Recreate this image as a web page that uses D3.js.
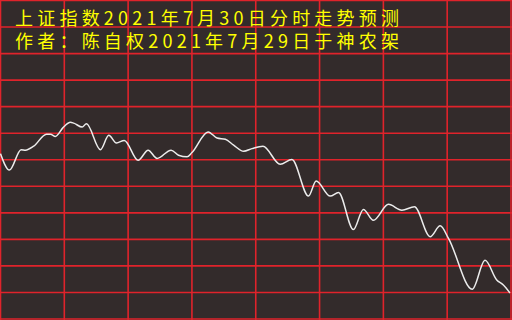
<!DOCTYPE html>
<html><head><meta charset="utf-8">
<script src="https://cdn.jsdelivr.net/npm/d3@7"></script>
<style>html,body{margin:0;padding:0;background:#332b2b;overflow:hidden}</style>
</head><body>
<svg id="c" width="512" height="320"></svg>
<script>
// Title lines
const titles = ["上证指数2021年7月30日分时走势预测", "作者：陈自权2021年7月29日于神农架"];
// Trading minute (0..240) of each traced point
const minutes = [0,4.2,9.7,11.7,15.6,21.6,23.5,25.8,29.4,32.9,34.4,38.4,40.4,47,50.9,54.5,58.2,64.7,69.4,73.6,80.2,83.7,87.7,90,97.6,101.8,105.7,109.6,114.3,118.2,123.4,131.5,137,144.8,148.4,155,158.9,165.9,170.6,175.3,182.4,188.7,194.6,202,206.7,210.6,221.8,227.8,233.3,236.4,239.5];
// Relative index level (grid domain 0..120)
const levels = [62.3,56.1,63.8,63.6,65.1,69.6,69.6,68.8,72.1,74.1,73.8,72.3,73.6,63.8,69.2,66.3,67.3,59.8,63.6,60.5,63.6,61.7,61.1,62.7,70.5,68.2,67.7,65.5,63.2,64.2,65.1,58.3,60.1,46.3,52.0,46.3,47.7,33.7,41.3,37.2,43.2,41.0,42.3,31.0,35.1,30.4,11.2,22.1,14.7,12.8,9.8];
// Grid ticks
const xTicks = [0,30,60,90,120,150,180,210,240];
const yTicks = d3.range(0,121,10);

const W = 512, H = 320;
const svg = d3.select("#c");
const x = d3.scaleLinear().domain([0,240]).range([0.5, W-1]);
const y = d3.scaleLinear().domain([0,120]).range([H-1, 0.5]);

svg.append("rect").attr("width",W).attr("height",H).attr("fill","#332b2b");

const grid = svg.append("g").attr("stroke","#e0232b").attr("stroke-width",1.6);
grid.selectAll("line.v").data(xTicks).join("line").attr("class","v")
  .attr("x1",d=>x(d)).attr("x2",d=>x(d)).attr("y1",0).attr("y2",H);
grid.selectAll("line.h").data(yTicks).join("line").attr("class","h")
  .attr("y1",d=>y(d)).attr("y2",d=>y(d)).attr("x1",0).attr("x2",W);

const pts = minutes.map((m,i)=>[m, levels[i]]);
const line = d3.line().x(d=>x(d[0])).y(d=>y(d[1])).curve(d3.curveMonotoneX);
svg.append("path").datum(pts).attr("d",line)
  .attr("fill","none").attr("stroke","#ececec").attr("stroke-width",1.5);

svg.selectAll("text.t").data(titles).join("text").attr("class","t")
  .attr("x",15).attr("y",(d,i)=>25+i*23)
  .attr("fill","#ffff00")
  .attr("font-family","'Noto Sans CJK SC', sans-serif")
  .attr("font-size",18)
  .attr("textLength",384).attr("lengthAdjust","spacing")
  .text(d=>d);
</script>
</body></html>
